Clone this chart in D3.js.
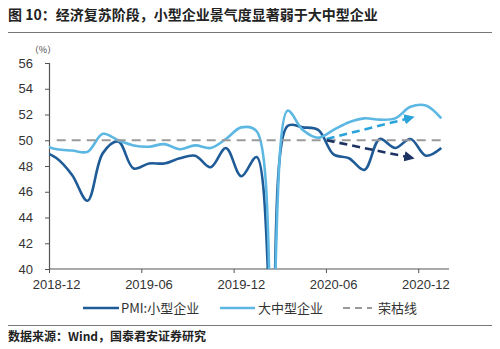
<!DOCTYPE html>
<html>
<head>
<meta charset="utf-8">
<script src="https://cdn.jsdelivr.net/npm/d3@7/dist/d3.min.js"></script>
<style>
  html, body { margin: 0; padding: 0; background: #fff; }
  svg { display: block; }
</style>
</head>
<body>
<svg id="chart" width="500" height="349"></svg>
<script>
// Monthly PMI by enterprise size (%), with the 50 boom-bust line
const months = [
  "2018-11","2018-12",
  "2019-01","2019-02","2019-03","2019-04","2019-05","2019-06",
  "2019-07","2019-08","2019-09","2019-10","2019-11","2019-12",
  "2020-01","2020-02","2020-03","2020-04","2020-05","2020-06",
  "2020-07","2020-08","2020-09","2020-10","2020-11","2020-12",
  "2021-01"
];
const smallPMI = [
  49.2, 48.6,
  47.3, 45.3, 49.0, 49.9, 47.8, 48.2,
  48.2, 48.6, 48.8, 47.9, 49.4, 47.2,
  48.7, 35.5, 51.1, 51.0, 50.8, 48.9,
  48.6, 47.7, 50.1, 49.4, 50.1, 48.8,
  49.4
];
const largeMidPMI = [
  49.7, 49.3,
  49.2, 49.1, 50.5, 50.0, 49.6, 49.5,
  49.7, 49.3, 49.6, 49.4, 50.1, 51.0,
  50.7, 36.2, 52.3, 50.8, 50.2, 50.8,
  51.4, 51.7, 51.6, 51.7, 52.6, 52.7,
  51.7
];
const boomLine = 50;
const boomFrom = "2018-12";
const yTicks = [40, 42, 44, 46, 48, 50, 52, 54, 56];
const xTickLabels = ["2018-12", "2019-06", "2019-12", "2020-06", "2020-12"];
// Trend arrows, in month-index / value units
const trendArrows = [
  { i0: 18.55, v0: 50.1, i1: 24.2, v1: 51.8, color: "#2aa3da" },
  { i0: 18.55, v0: 50.0, i1: 24.2, v1: 48.6, color: "#1c3262" }
];
const legendItems = [
  { label: "PMI:小型企业", color: "#1f5c97", dash: null },
  { label: "大中型企业", color: "#5cb7e3", dash: null },
  { label: "荣枯线", color: "#9a9a9a", dash: "7,5" }
];

const svg = d3.select("#chart");
const plot = { left: 49, right: 449, top: 63, bottom: 269 };

// Month index i sits at the centre of its slot; slot edges at i ± 0.5
const x = d3.scaleLinear().domain([0.5, months.length - 0.5]).range([plot.left, plot.right]);
const y = d3.scaleLinear().domain([40, 56]).range([plot.bottom, plot.top]);

const cjk = "'Noto Sans CJK SC', 'Noto Sans', sans-serif";
const latin = "'Liberation Sans', Arial, sans-serif";

// Title and rules
svg.append("text")
  .attr("x", 8).attr("y", 20)
  .attr("font-family", cjk).attr("font-weight", "bold").attr("font-size", 14)
  .attr("fill", "#222")
  .text("图 10：经济复苏阶段，小型企业景气度显著弱于大中型企业");
svg.append("line").attr("x1", 8).attr("x2", 492).attr("y1", 32.5).attr("y2", 32.5)
  .attr("stroke", "#777").attr("stroke-width", 1.2);
svg.append("line").attr("x1", 8).attr("x2", 492).attr("y1", 325.5).attr("y2", 325.5)
  .attr("stroke", "#777").attr("stroke-width", 1.2);
svg.append("text")
  .attr("x", 8).attr("y", 341)
  .attr("font-family", cjk).attr("font-weight", "bold").attr("font-size", 12)
  .attr("fill", "#222")
  .text("数据来源：Wind，国泰君安证券研究");

// Unit label
svg.append("text")
  .attr("x", 43).attr("y", 53).attr("text-anchor", "middle")
  .attr("font-family", cjk).attr("font-size", 9).attr("fill", "#444")
  .text("（%）");

// Y axis
const yAxis = d3.axisLeft(y).tickValues(yTicks).tickSize(4).tickPadding(12);
const gy = svg.append("g").attr("transform", `translate(${plot.left},0)`).call(yAxis);
gy.select(".domain").attr("stroke", "#555").attr("stroke-width", 1.2);
gy.selectAll(".tick line").attr("stroke", "#555");
gy.selectAll(".tick text").attr("font-family", latin).attr("font-size", 13).attr("fill", "#333");

// X axis: tick marks at slot edges, labels at slot centres
const xTickEdges = xTickLabels.map(m => months.indexOf(m) - 0.5);
const xAxis = d3.axisBottom(x).tickValues(xTickEdges).tickSize(4).tickFormat("");
const gx = svg.append("g").attr("transform", `translate(0,${plot.bottom})`).call(xAxis);
gx.select(".domain").attr("stroke", "#555").attr("stroke-width", 1.2)
  .attr("d", `M${plot.left},0H${plot.right}`);
gx.selectAll(".tick line").attr("stroke", "#555");
svg.append("g").attr("class", "x-labels").selectAll("text").data(xTickLabels).join("text")
  .attr("x", d => x(months.indexOf(d)))
  .attr("y", plot.bottom + 20)
  .attr("text-anchor", "middle")
  .attr("font-family", latin).attr("font-size", 13).attr("fill", "#333")
  .text(d => d);

// Plot-area clip
svg.append("clipPath").attr("id", "plotClip")
  .append("rect").attr("x", plot.left).attr("y", plot.top - 5)
  .attr("width", plot.right - plot.left).attr("height", plot.bottom - plot.top + 5);

const lineGen = d3.line()
  .x((d, i) => x(i))
  .y(d => y(d))
  .curve(d3.curveCatmullRom.alpha(0.5));

const lines = svg.append("g").attr("clip-path", "url(#plotClip)");
lines.append("path").datum(smallPMI)
  .attr("d", lineGen).attr("fill", "none")
  .attr("stroke", legendItems[0].color).attr("stroke-width", 2.6);
lines.append("path").datum(largeMidPMI)
  .attr("d", lineGen).attr("fill", "none")
  .attr("stroke", legendItems[1].color).attr("stroke-width", 2.6);

// Boom-bust line at 50
const boomStart = months.indexOf(boomFrom);
lines.append("line")
  .attr("x1", x(boomStart)).attr("x2", x(months.length - 1))
  .attr("y1", y(boomLine)).attr("y2", y(boomLine))
  .attr("stroke", legendItems[2].color).attr("stroke-width", 2)
  .attr("stroke-dasharray", "9,6");

// Trend arrows
const defs = svg.append("defs");
trendArrows.forEach((a, k) => {
  defs.append("marker")
    .attr("id", "arrow" + k)
    .attr("viewBox", "0 0 10 10").attr("refX", 9).attr("refY", 5)
    .attr("markerWidth", 4).attr("markerHeight", 4)
    .attr("markerUnits", "strokeWidth")
    .attr("orient", "auto")
    .append("path").attr("d", "M0,0L10,5L0,10Z").attr("fill", a.color);
  svg.append("line")
    .attr("x1", x(a.i0)).attr("y1", y(a.v0))
    .attr("x2", x(a.i1)).attr("y2", y(a.v1))
    .attr("stroke", a.color).attr("stroke-width", 2.6)
    .attr("stroke-dasharray", "8,5")
    .attr("marker-end", `url(#arrow${k})`);
});

// Legend
const legendY = 308;
const legendPos = [
  { x0: 83, x1: 119, tx: 121 },
  { x0: 220, x1: 255, tx: 258 },
  { x0: 343, x1: 372, tx: 378 }
];
legendItems.forEach((d, k) => {
  const p = legendPos[k];
  svg.append("line")
    .attr("x1", p.x0).attr("x2", p.x1).attr("y1", legendY).attr("y2", legendY)
    .attr("stroke", d.color).attr("stroke-width", d.dash ? 2 : 2.6)
    .attr("stroke-dasharray", d.dash);
  svg.append("text")
    .attr("x", p.tx).attr("y", legendY + 4.5)
    .attr("font-family", cjk).attr("font-size", 13).attr("fill", "#333")
    .text(d.label);
});
</script>
</body>
</html>
